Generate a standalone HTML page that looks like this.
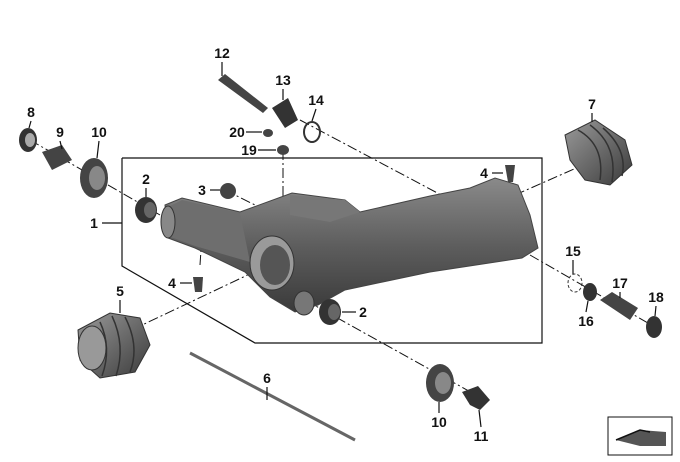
<!DOCTYPE html>
<html><head><meta charset="utf-8"><style>
html,body{margin:0;padding:0;background:#fff}
svg{display:block}
text{font-family:"Liberation Sans",Arial,sans-serif;font-weight:bold;font-size:14px;fill:#111}
</style></head><body>
<svg width="680" height="462" viewBox="0 0 680 462" xmlns="http://www.w3.org/2000/svg">
<defs>
<linearGradient id="g1" x1="0" y1="0" x2="0" y2="1"><stop offset="0" stop-color="#8a8a8a"/><stop offset="0.5" stop-color="#5e5e5e"/><stop offset="1" stop-color="#3a3a3a"/></linearGradient>
<linearGradient id="g2" x1="0" y1="0" x2="1" y2="1"><stop offset="0" stop-color="#9a9a9a"/><stop offset="1" stop-color="#3a3a3a"/></linearGradient>
</defs>
<polyline points="122,158 542,158 542,343 255,343 122,266 122,158" fill="none" stroke="#111" stroke-width="1.2"/>
<g stroke="#111" stroke-width="1" stroke-dasharray="10,3,2,3" fill="none">
<line x1="30" y1="140" x2="160" y2="215"/>
<line x1="300" y1="120" x2="460" y2="205"/>
<line x1="283" y1="150" x2="283" y2="225"/>
<line x1="515" y1="195" x2="590" y2="162"/>
<line x1="530" y1="255" x2="660" y2="330"/>
<line x1="100" y1="345" x2="275" y2="262"/>
<line x1="305" y1="300" x2="485" y2="400"/>
<line x1="225" y1="190" x2="255" y2="205"/>
<line x1="200" y1="265" x2="202" y2="235"/>
<line x1="508" y1="185" x2="505" y2="195"/>
</g>
<path d="M165,205 L182,198 L240,212 L292,193 L345,200 L360,212 L430,196 L470,188 L495,178 L518,185 L530,215 L538,248 L522,258 L430,272 L345,290 L318,305 L295,312 L270,297 L245,272 L195,248 L168,238 Z" fill="url(#g1)" stroke="#444"/>
<path d="M168,207 L182,200 L240,213 L250,262 L195,246 L168,236 Z" fill="#6e6e6e"/>
<path d="M290,195 L345,200 L360,212 L330,222 L290,215 Z" fill="#777"/>
<ellipse cx="272" cy="263" rx="22" ry="27" fill="#9a9a9a" stroke="#333"/>
<ellipse cx="275" cy="265" rx="15" ry="20" fill="#555"/>
<ellipse cx="304" cy="303" rx="10" ry="12" fill="#777" stroke="#333"/>
<ellipse cx="168" cy="222" rx="7" ry="16" fill="#888" stroke="#333"/>
<ellipse cx="146" cy="210" rx="11" ry="13" fill="#333"/><ellipse cx="150" cy="210" rx="6" ry="8" fill="#666"/>
<ellipse cx="330" cy="312" rx="11" ry="13" fill="#333"/><ellipse cx="334" cy="312" rx="6" ry="8" fill="#666"/>
<ellipse cx="228" cy="191" rx="8" ry="8" fill="#444"/>
<path d="M505,165 L515,165 L513,182 L508,182 Z" fill="#444"/>
<path d="M193,277 L203,277 L202,292 L195,292 Z" fill="#444"/>
<ellipse cx="28" cy="140" rx="9" ry="12" fill="#333"/><ellipse cx="30" cy="140" rx="5" ry="7" fill="#aaa"/>
<path d="M42,152 L62,145 L72,160 L52,170 Z" fill="#444"/>
<ellipse cx="94" cy="178" rx="14" ry="20" fill="#444"/><ellipse cx="97" cy="178" rx="8" ry="12" fill="#888"/>
<path d="M218,80 L225,74 L268,108 L263,113 Z" fill="#444"/>
<path d="M272,108 L288,98 L298,120 L285,128 Z" fill="#333"/>
<ellipse cx="312" cy="132" rx="8" ry="10" fill="none" stroke="#333" stroke-width="2"/>
<ellipse cx="268" cy="133" rx="5" ry="4" fill="#444"/>
<ellipse cx="283" cy="150" rx="6" ry="5" fill="#444"/>
<path d="M565,135 L595,120 L625,140 L632,165 L610,185 L585,180 L570,160 Z" fill="url(#g2)" stroke="#333"/>
<g stroke="#333" stroke-width="1.5" fill="none">
<path d="M578,130 Q605,145 600,180"/><path d="M590,125 Q618,145 612,182"/><path d="M603,128 Q628,150 622,176"/>
</g>
<ellipse cx="575" cy="283" rx="7" ry="9" fill="none" stroke="#333" stroke-dasharray="3,2"/>
<ellipse cx="590" cy="292" rx="7" ry="9" fill="#333"/>
<path d="M600,300 L612,292 L638,308 L630,320 Z" fill="#444"/>
<ellipse cx="654" cy="327" rx="8" ry="11" fill="#333"/>
<path d="M78,330 L110,313 L140,318 L150,345 L135,372 L100,378 L80,360 Z" fill="url(#g2)" stroke="#333"/>
<g stroke="#333" stroke-width="1.5" fill="none">
<path d="M100,322 Q112,348 102,376"/><path d="M112,316 Q126,346 116,376"/><path d="M125,317 Q140,346 130,372"/>
</g>
<ellipse cx="92" cy="348" rx="14" ry="22" fill="#999" stroke="#333"/>
<line x1="190" y1="353" x2="355" y2="440" stroke="#666" stroke-width="3"/>
<ellipse cx="440" cy="383" rx="14" ry="19" fill="#444"/><ellipse cx="443" cy="383" rx="8" ry="11" fill="#888"/>
<path d="M462,392 L478,386 L490,400 L480,410 L470,405 Z" fill="#333"/>
<g stroke="#111" stroke-width="1.2">
<line x1="222" y1="62" x2="222" y2="76"/>
<line x1="283" y1="89" x2="283" y2="100"/>
<line x1="316" y1="109" x2="312" y2="121"/>
<line x1="246" y1="132" x2="262" y2="132"/>
<line x1="258" y1="150" x2="276" y2="150"/>
<line x1="31" y1="121" x2="29" y2="128"/>
<line x1="60" y1="141" x2="62" y2="149"/>
<line x1="99" y1="141" x2="97" y2="158"/>
<line x1="592" y1="113" x2="592" y2="122"/>
<line x1="492" y1="173" x2="503" y2="173"/>
<line x1="210" y1="190" x2="220" y2="190"/>
<line x1="146" y1="188" x2="146" y2="197"/>
<line x1="102" y1="223" x2="122" y2="223"/>
<line x1="573" y1="260" x2="573" y2="274"/>
<line x1="620" y1="292" x2="620" y2="298"/>
<line x1="656" y1="306" x2="655" y2="316"/>
<line x1="586" y1="312" x2="588" y2="301"/>
<line x1="180" y1="283" x2="192" y2="283"/>
<line x1="342" y1="312" x2="356" y2="312"/>
<line x1="120" y1="300" x2="120" y2="313"/>
<line x1="267" y1="387" x2="267" y2="400"/>
<line x1="439" y1="413" x2="439" y2="402"/>
<line x1="481" y1="427" x2="479" y2="410"/>
</g>
<g text-anchor="middle">
<text x="222" y="58">12</text><text x="283" y="85">13</text><text x="316" y="105">14</text>
<text x="237" y="137">20</text><text x="249" y="155">19</text>
<text x="31" y="117">8</text><text x="60" y="137">9</text><text x="99" y="137">10</text>
<text x="592" y="109">7</text><text x="484" y="178">4</text><text x="202" y="195">3</text>
<text x="146" y="184">2</text><text x="94" y="228">1</text><text x="573" y="256">15</text>
<text x="620" y="288">17</text><text x="656" y="302">18</text><text x="586" y="326">16</text>
<text x="172" y="288">4</text><text x="363" y="317">2</text><text x="120" y="296">5</text>
<text x="267" y="383">6</text><text x="439" y="427">10</text><text x="481" y="441">11</text>
</g>
<rect x="608" y="417" width="64" height="38" fill="#fff" stroke="#111"/>
<path d="M616,440 L640,430 L666,432 L666,446 L640,446 Z" fill="#555"/>
<path d="M616,440 L640,430 L650,432" fill="none" stroke="#111" stroke-width="1.5"/>
</svg>
</body></html>
